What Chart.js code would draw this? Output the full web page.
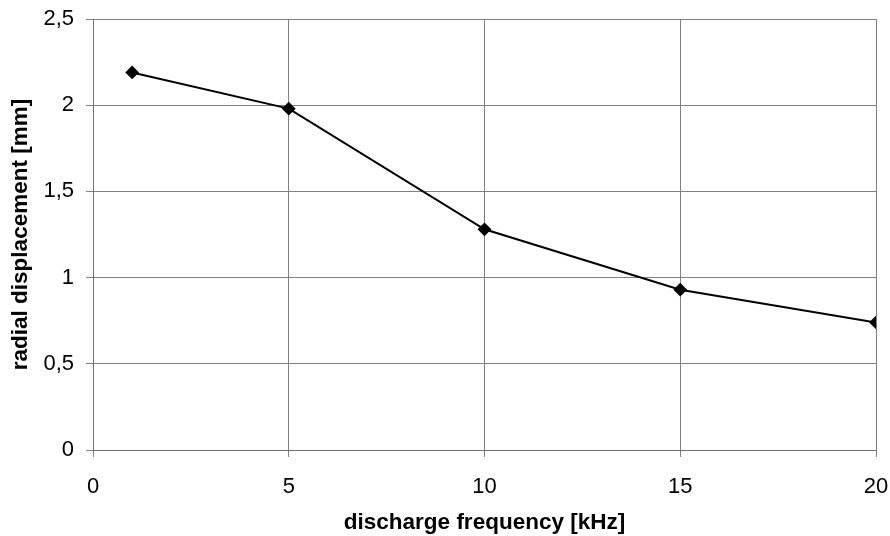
<!DOCTYPE html>
<html>
<head>
<meta charset="utf-8">
<script src="https://cdn.jsdelivr.net/npm/chart.js@4/dist/chart.umd.min.js"></script>
<style>
  html, body { margin: 0; padding: 0; background: #fff; }
  #wrap { width: 890px; height: 536px; }
</style>
</head>
<body>
<div id="wrap"><canvas id="myChart" width="890" height="536"></canvas></div>
<script>
// data
const frequencies = [1, 5, 10, 15, 20];
const displacement = [2.19, 1.98, 1.28, 0.93, 0.74];
const xTicks = [0, 5, 10, 15, 20];
const yTicks = [0, 0.5, 1, 1.5, 2, 2.5];

const points = frequencies.map((f, i) => ({ x: f, y: displacement[i] }));

const tickFont = { family: 'Liberation Sans, Arial, sans-serif', size: 22 };
const titleFont = { family: 'Liberation Sans, Arial, sans-serif', size: 22.5, weight: 'bold' };

const config = {
  type: 'scatter',
  data: {
    datasets: [{
      data: points,
      showLine: true,
      borderColor: '#000',
      backgroundColor: '#000',
      borderWidth: 2,
      pointStyle: 'rectRot',
      pointRadius: 5.5,
      pointHoverRadius: 5.5
    }]
  },
  options: {
    responsive: false,
    animation: false,
    layout: { padding: { left: 0, right: 14, top: 19, bottom: 0 } },
    plugins: { legend: { display: false }, tooltip: { enabled: false } },
    scales: {
      x: {
        type: 'linear',
        min: 0, max: 20,
        afterFit(scale) {
          scale.height = 86;
          scale.paddingLeft = 0;
          scale.paddingRight = 0;
        },
        afterBuildTicks(scale) { scale.ticks = xTicks.map(v => ({ value: v })); },
        grid: { color: '#808080', lineWidth: 1, tickLength: 7, drawTicks: true },
        border: { color: '#707070', width: 1 },
        ticks: { color: '#000', font: tickFont, padding: 17 },
        title: { display: true, text: 'discharge frequency [kHz]', color: '#000', font: titleFont, padding: { top: 0, bottom: 0 } }
      },
      y: {
        min: 0, max: 2.5,
        afterFit(scale) {
          scale.width = 93;
          scale.paddingTop = 0;
          scale.paddingBottom = 0;
        },
        afterBuildTicks(scale) { scale.ticks = yTicks.map(v => ({ value: v })); },
        grid: { color: '#808080', lineWidth: 1, tickLength: 7 },
        border: { color: '#707070', width: 1 },
        ticks: {
          color: '#000', font: tickFont, padding: 12,
          callback: v => String(v).replace('.', ',')
        },
        title: { display: true, text: 'radial displacement [mm]', color: '#000', font: titleFont, padding: { top: 7, bottom: 0 } }
      }
    }
  }
};

const myChart = new Chart(document.getElementById('myChart'), config);
</script>
</body>
</html>
